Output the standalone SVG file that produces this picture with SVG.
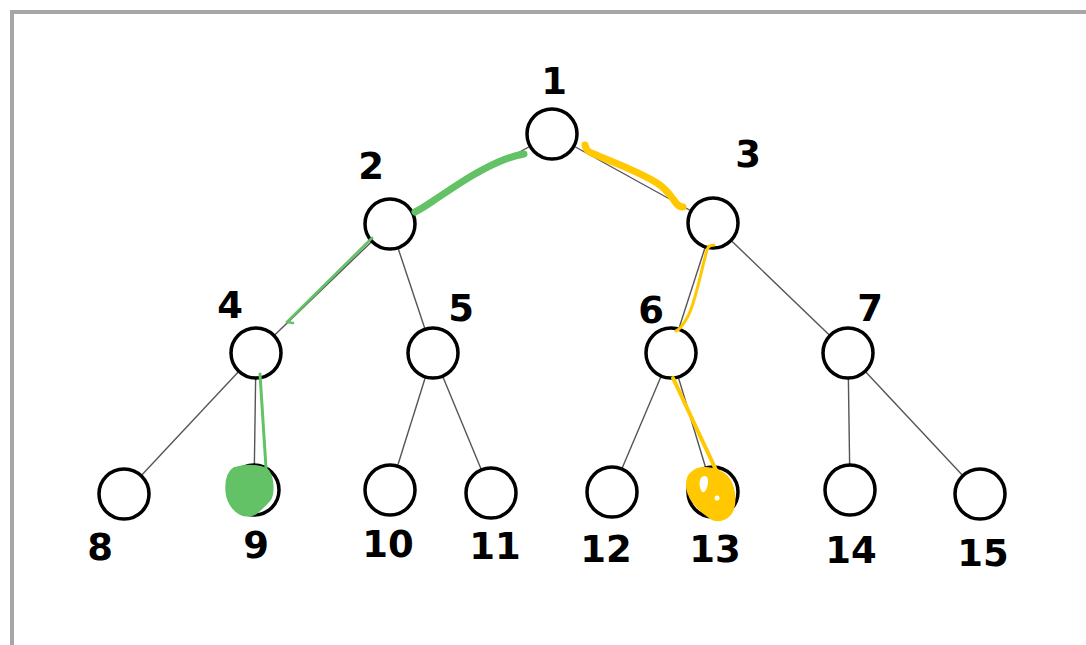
<svg xmlns="http://www.w3.org/2000/svg" width="1086" height="645" viewBox="0 0 1086 645">
  <style>
    .node { fill: #ffffff; stroke: #000000; stroke-width: 3.5; }
    .edge { stroke: #555555; stroke-width: 1.4; fill: none; }
    .label { font-family: "DejaVu Sans", sans-serif; font-weight: bold; font-size: 37px; fill: #000000; text-anchor: middle; }
    .green { stroke: #62c265; fill: none; stroke-linecap: round; stroke-linejoin: round; }
    .yellow { stroke: #ffc800; fill: none; stroke-linecap: round; stroke-linejoin: round; }
  </style>

  <rect width="1086" height="645" fill="#ffffff"/>
  <!-- frame -->
  <path d="M12,645 V12 H1086" fill="none" stroke="#a6a6a6" stroke-width="4"/>

  <!-- tree edges -->
  <g id="edges">
    <line class="edge" x1="552" y1="134" x2="390" y2="224"/>
    <line class="edge" x1="552" y1="134" x2="713" y2="223"/>
    <line class="edge" x1="390" y1="224" x2="256" y2="353"/>
    <line class="edge" x1="390" y1="224" x2="433" y2="353"/>
    <line class="edge" x1="713" y1="223" x2="671" y2="353"/>
    <line class="edge" x1="713" y1="223" x2="848" y2="353"/>
    <line class="edge" x1="256" y1="353" x2="124" y2="494"/>
    <line class="edge" x1="256" y1="353" x2="254" y2="490"/>
    <line class="edge" x1="433" y1="353" x2="390" y2="490"/>
    <line class="edge" x1="433" y1="353" x2="491" y2="493"/>
    <line class="edge" x1="671" y1="353" x2="612" y2="492"/>
    <line class="edge" x1="671" y1="353" x2="713" y2="492"/>
    <line class="edge" x1="848" y1="353" x2="850" y2="490"/>
    <line class="edge" x1="848" y1="353" x2="980" y2="494"/>
  </g>

  <!-- nodes -->
  <g id="n1"><circle class="node" cx="552" cy="134" r="25"/><text class="label" x="554" y="94">1</text></g>
  <g id="n2"><circle class="node" cx="390" cy="224" r="25"/><text class="label" x="371" y="179">2</text></g>
  <g id="n3"><circle class="node" cx="713" cy="223" r="25"/><text class="label" x="748" y="167">3</text></g>
  <g id="n4"><circle class="node" cx="256" cy="353" r="25"/><text class="label" x="230" y="318">4</text></g>
  <g id="n5"><circle class="node" cx="433" cy="353" r="25"/><text class="label" x="461" y="321">5</text></g>
  <g id="n6"><circle class="node" cx="671" cy="353" r="25"/><text class="label" x="651" y="323">6</text></g>
  <g id="n7"><circle class="node" cx="848" cy="353" r="25"/><text class="label" x="870" y="321">7</text></g>
  <g id="n8"><circle class="node" cx="124" cy="494" r="25"/><text class="label" x="100" y="560">8</text></g>
  <g id="n9"><circle class="node" cx="254" cy="490" r="25"/><text class="label" x="256" y="558">9</text></g>
  <g id="n10"><circle class="node" cx="390" cy="490" r="25"/><text class="label" x="388" y="557">10</text></g>
  <g id="n11"><circle class="node" cx="491" cy="493" r="25"/><text class="label" x="495" y="559">11</text></g>
  <g id="n12"><circle class="node" cx="612" cy="492" r="25"/><text class="label" x="606" y="562">12</text></g>
  <g id="n13"><circle class="node" cx="713" cy="492" r="25"/><text class="label" x="715" y="562">13</text></g>
  <g id="n14"><circle class="node" cx="850" cy="490" r="25"/><text class="label" x="851" y="563">14</text></g>
  <g id="n15"><circle class="node" cx="980" cy="494" r="25"/><text class="label" x="983" y="566">15</text></g>

  <!-- highlighted path to 9 (green) -->
  <g id="path-green">
    <path class="green" stroke-width="7" d="M524,154 C506,157 489,166 473,175 C458,184 445,193 433,201 C427,205 421,209 415,212"/>
    <path class="green" stroke-width="2.6" d="M372,238 L287,322 L293,323"/>
    <path class="green" stroke-width="3" d="M260,374 L266,468"/>
    <path d="M234,468 C245,464 262,465 268,470 C274,478 274,494 270,500 C266,505 262,508 258,512 C254,516 246,517 240,514 C232,510 226,500 226,488 C226,478 229,471 234,468 Z" fill="#62c265" stroke="#62c265" stroke-width="1.5"/>
  </g>

  <!-- highlighted path to 13 (yellow) -->
  <g id="path-yellow">
    <path class="yellow" stroke-width="7" d="M585,145 C586,150 588,152 594,154 C615,163 640,172 657,183 C668,190 672,198 676,203 C678,206 680,207 683,207"/>
    <path class="yellow" stroke-width="3" d="M714,245 C711,245 708,246 707,250 C700,275 695,305 687,318 C683,325 679,330 676,331"/>
    <path class="yellow" stroke-width="4" d="M673,378 L716,470"/>
    <path d="M692,472 C700,465 716,467 726,475 C735,484 737,502 732,512 C727,520 718,523 710,518 C700,511 688,500 687,488 C686,480 688,475 692,472 Z" fill="#ffc800" stroke="#ffc800" stroke-width="1.5"/>
    <circle cx="717" cy="498" r="2.5" fill="#ffffff"/>
    <path d="M701,478 C704,474 709,476 708,483 C707,491 703,495 701,490 C699,486 699,481 701,478 Z" fill="#ffffff"/>
  </g>
</svg>
